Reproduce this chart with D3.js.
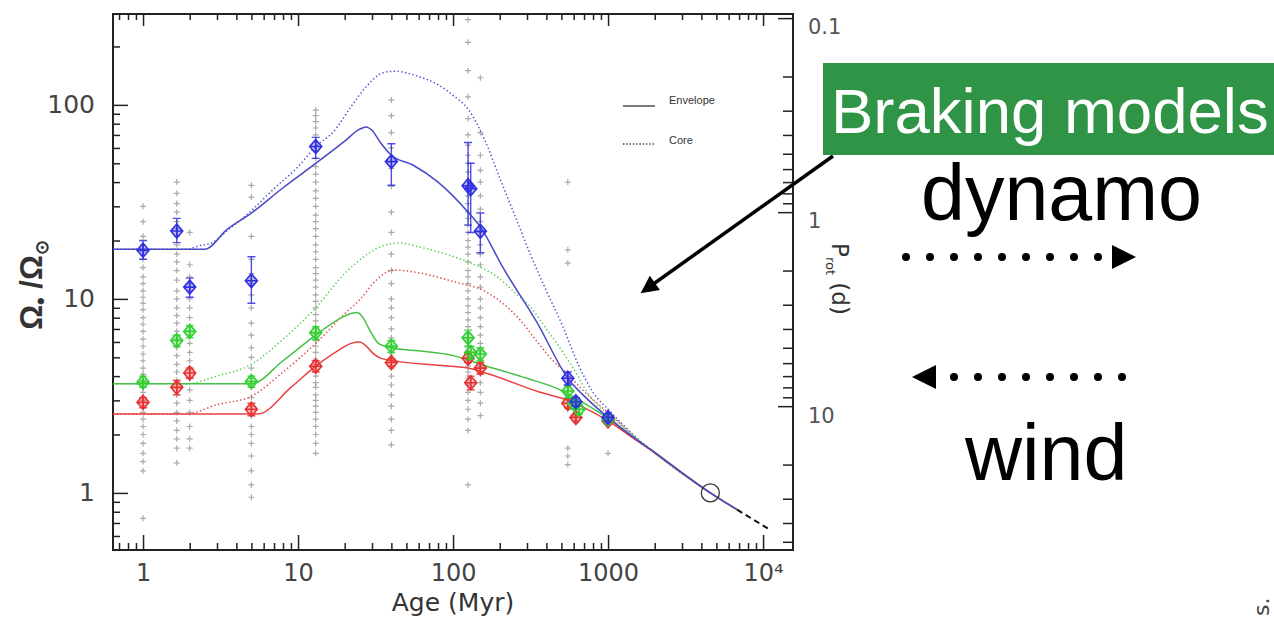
<!DOCTYPE html>
<html><head><meta charset="utf-8">
<script src="https://cdn.jsdelivr.net/npm/d3@7"></script>
<style>body{margin:0;background:#fff;}svg{display:block}</style>
</head><body>
<svg id="c" width="1274" height="619"></svg>
<script>
// ---------- DATA ----------
const xTickValues = [1, 10, 100, 1000, 10000];
const xTickLabels = ["1", "10", "100", "1000", "10\u2074"];
const yTickValues = [1, 10, 100];
const yTickLabels = ["1", "10", "100"];
const pTickValues = [0.1, 1, 10];
const pTickLabels = ["0.1", "1", "10"];
const legendLabels = ["Envelope", "Core"];

// cluster ages (Myr) and individual star rotation rates (Omega/Omega_sun)
const clusterAges = [1, 1.65, 2, 5, 13, 40, 125, 150, 550, 600, 1000];
const clusterOmega = [
  [30, 25, 21, 19, 17.5, 16, 14.5, 13, 12, 11, 10.2, 9.5, 8.8, 8, 7.4, 6.8, 6.2, 5.7, 5.2, 4.8, 4.4, 4.1, 3.8, 3.5, 3.3, 3.0, 2.8, 2.6, 2.4, 2.2, 2.0, 1.8, 1.6, 1.45, 1.3, 0.74],
  [40, 35, 31, 28, 25, 23, 21, 19, 17, 15.5, 14, 12.5, 11, 10, 9, 8.2, 7.5, 6.8, 6.2, 5.6, 5.1, 4.6, 4.2, 3.8, 3.5, 3.2, 2.9, 2.6, 2.35, 2.1, 1.9, 1.7, 1.43],
  [22, 15, 13, 12, 11, 10, 9, 8, 7.2, 6.5, 5.9, 5.3, 4.8, 4.3, 3.9, 3.4, 3.0, 2.6, 2.2, 1.9, 1.7],
  [38.5, 33.5, 21, 16, 13.5, 12, 10.5, 9, 7.5, 6.5, 5.6, 5.0, 4.4, 3.9, 3.5, 3.1, 2.8, 2.5, 2.2, 2.0, 1.8, 1.55, 1.3, 1.1, 0.95],
  [94, 88, 82, 76, 70, 64, 58, 53, 48, 44, 40, 36, 33, 30, 27, 25, 23, 21, 19, 17.5, 16, 14.5, 13.5, 12.5, 11.5, 10.5, 9.7, 9, 8.3, 7.7, 7.1, 6.6, 6.1, 5.7, 5.3, 4.9, 4.6, 4.3, 4.0, 3.7, 3.5, 3.2, 3.0, 2.8, 2.6, 2.4, 2.2, 2.0, 1.8, 1.6],
  [106, 88, 72, 60, 47, 38, 28, 22, 17, 14, 12, 10, 9, 8, 7, 6.3, 5.7, 5.2, 4.8, 4.4, 4.0, 3.6, 3.2, 2.8, 2.4, 2.1, 1.77],
  [275, 210, 150, 110, 85, 70, 62, 55, 50, 45, 41, 37, 34, 31, 28, 26, 24, 22, 20, 18.5, 17, 15.5, 14, 13, 12, 11, 10, 9.2, 8.5, 7.8, 7.2, 6.6, 6.1, 5.6, 5.2, 4.8, 4.5, 4.2, 3.9, 3.6, 3.3, 3.0, 2.7, 2.4, 2.1, 1.1],
  [138, 72, 55, 46, 40, 34, 29, 25, 22, 19, 17, 15, 13, 11.5, 10, 9, 8, 7.2, 6.5, 5.9, 5.4, 4.9, 4.5, 4.1, 3.7, 3.3, 2.9, 2.5],
  [40, 17.9, 15.3, 3.9, 3.5, 3.2, 2.9, 2.7, 1.7, 1.55, 1.4],
  [3.0, 2.7, 2.5],
  [2.5, 2.3, 1.6]
];

// percentile markers: [age, omega, low, high]
const bluePct = [[1,17.8,16,20],[1.65,22.4,19.5,26],[2,11.5,10.2,12.8],[5,12.4,9.5,16.5],[13,61,53,68],[40,51,38.5,63],[125,38.3,24,64],[130,37,22,50],[150,22.3,17.3,27.7],[550,3.9,3.6,4.2],[620,2.95,2.8,3.1],[1000,2.45,2.35,2.55]];
const greenPct = [[1,3.73,3.5,4.0],[1.65,6.1,5.7,6.5],[2,6.8,6.3,7.3],[5,3.75,3.5,4.0],[13,6.7,6.2,7.2],[40,5.7,5.3,6.1],[125,6.3,5.7,6.9],[130,5.3,4.9,5.7],[150,5.2,4.8,5.6],[550,3.35,3.1,3.6],[600,2.9,2.7,3.1],[650,2.7,2.55,2.85],[1000,2.4,2.3,2.5]];
const redPct = [[1,2.93,2.75,3.1],[1.65,3.5,3.2,3.8],[2,4.15,3.9,4.4],[5,2.7,2.5,2.9],[13,4.5,4.2,4.8],[40,4.7,4.5,4.9],[125,4.95,4.7,5.2],[130,3.7,3.4,4.0],[150,4.4,4.1,4.7],[550,2.9,2.75,3.05],[620,2.45,2.35,2.55],[1000,2.35,2.3,2.45]];

// model curves: [age, omega]
const blueEnvelope = [[0.64,18],[2.5,18],[3.5,22.9],[5,27.7],[8,37.4],[13,49.9],[20,65],[25,75],[27.5,77],[30,74],[34,64],[40,55],[55,49],[80,40],[125,28],[150,23.5],[210,14.5],[350,7.5],[550,3.9],[750,3.0],[1000,2.45],[1500,1.9],[2000,1.62],[3000,1.27],[4570,1.0],[6800,0.82]];
const greenEnvelope = [[0.64,3.65],[5,3.65],[8,4.8],[13,6.5],[18,7.8],[22,8.4],[24,8.5],[26,8.1],[29,6.9],[33,5.9],[40,5.6],[60,5.4],[100,5.1],[165,4.5],[300,3.9],[490,3.4],[700,2.9],[1000,2.42],[1500,1.9],[2000,1.62],[3000,1.27],[4570,1.0],[6800,0.82]];
const redEnvelope = [[0.64,2.55],[5.5,2.55],[9,3.5],[13,4.5],[18,5.4],[22,5.9],[25,6.0],[27,5.8],[30,5.3],[34,4.95],[45,4.75],[80,4.55],[125,4.4],[170,4.1],[365,3.3],[550,3.0],[700,2.75],[1000,2.35],[1500,1.88],[2000,1.61],[3000,1.27],[4570,1.0],[6800,0.82]];
const blueCore = [[0.64,18],[1.9,18],[2.3,18.8],[2.8,19.5],[3.5,22.5],[5,28.5],[7,37],[10,48],[13,61],[17,73],[22,98],[28,126],[35,146],[42,149],[60,140],[80,127],[100,112],[125,95],[160,66],[200,42],[250,27],[315,17],[400,11],[500,7.5],[650,4.5],[800,3.3],[1000,2.7],[1500,1.95],[2500,1.4],[4570,1.0]];
const greenCore = [[0.64,3.65],[1.9,3.65],[3,4.0],[5,4.6],[8,6.2],[13,9],[20,13.5],[28,17],[36,18.9],[45,19.4],[61,18.5],[90,17],[125,15.5],[192,13],[250,10.8],[315,9.1],[400,7],[512,5.3],[640,4.0],[732,3.3],[850,2.85],[1000,2.55],[1500,1.93],[2500,1.4],[4570,1.0]];
const redCore = [[0.64,2.55],[1.9,2.55],[3,2.85],[5,3.15],[8,4.2],[13,5.9],[20,8.4],[25,9.9],[32,12.5],[41,14.1],[61,13.6],[100,12.3],[166,10.8],[270,7.8],[350,6.0],[442,4.8],[550,4.1],[660,3.5],[850,2.9],[1000,2.6],[1500,1.93],[2500,1.4],[4570,1.0]];
const extrapolation = [[6800,0.82],[11100,0.645]];
const sunPoint = [4570, 1.0];
const solarPeriod = 28; // days, P = solarPeriod / (Omega/Omega_sun)

// annotation texts
const boxLabel = "Braking models";
const word1 = "dynamo";
const word2 = "wind";

// ---------- CHART ----------
const svg = d3.select("#c");
const L = 113, R = 793, T = 14, B = 550;
const x = d3.scaleLog().domain([0.64, 15600]).range([L, R]);
const y = d3.scaleLog().domain([0.508, 294]).range([B, T]);
const yP = d3.scaleLog().domain([solarPeriod / 0.508, solarPeriod / 294]).range([B, T]);

function minorTicks(lo, hi, min, max) {
  const out = [];
  for (let e = lo; e <= hi; e++) for (let k = 2; k <= 9; k++) {
    const v = k * Math.pow(10, e);
    if (v > min && v < max) out.push(v);
  }
  return out;
}
const axisFont = "DejaVu Sans, sans-serif";

function styleAxis(g) {
  g.select(".domain").remove();
  g.selectAll(".tick line").attr("stroke", "#222").attr("stroke-width", 1.5);
}

// bottom
const gB = svg.append("g").attr("transform", `translate(0,${B})`);
gB.call(d3.axisBottom(x).tickValues(xTickValues).tickSize(-15).tickPadding(14)
  .tickFormat((d, i) => xTickLabels[i])).call(styleAxis);
gB.selectAll("text").attr("font-family", axisFont).attr("font-size", 24).attr("fill", "#444");
svg.append("g").attr("transform", `translate(0,${B})`)
  .call(d3.axisBottom(x).tickValues(minorTicks(-1, 3, 0.64, 15600)).tickSize(-7).tickFormat("")).call(styleAxis);
// top
svg.append("g").attr("transform", `translate(0,${T})`)
  .call(d3.axisTop(x).tickValues(xTickValues).tickSize(-12).tickFormat("")).call(styleAxis);
svg.append("g").attr("transform", `translate(0,${T})`)
  .call(d3.axisTop(x).tickValues(minorTicks(-1, 3, 0.64, 15600)).tickSize(-6).tickFormat("")).call(styleAxis);
// left
const gL = svg.append("g").attr("transform", `translate(${L},0)`);
gL.call(d3.axisLeft(y).tickValues(yTickValues).tickSize(-15).tickPadding(18)
  .tickFormat((d, i) => yTickLabels[i])).call(styleAxis);
gL.selectAll("text").attr("font-family", axisFont).attr("font-size", 25).attr("fill", "#444");
svg.append("g").attr("transform", `translate(${L},0)`)
  .call(d3.axisLeft(y).tickValues(minorTicks(-1, 2, 0.508, 294)).tickSize(-7).tickFormat("")).call(styleAxis);
// right (rotation period)
svg.append("g").attr("transform", `translate(${R},0)`)
  .call(d3.axisRight(yP).tickValues(pTickValues).tickSize(-15).tickFormat("")).call(styleAxis);
svg.append("g").attr("transform", `translate(${R},0)`)
  .call(d3.axisRight(yP).tickValues(minorTicks(-1, 1, solarPeriod / 294, solarPeriod / 0.508)).tickSize(-10).tickFormat("")).call(styleAxis);
svg.append("g").selectAll("text").data(pTickValues).join("text")
  .attr("x", R + 15).attr("y", d => yP(d) + 9).attr("dy", "0.35em")
  .attr("font-family", axisFont).attr("font-size", 21).attr("fill", "#555")
  .text((d, i) => pTickLabels[i]);

// frame
svg.append("rect").attr("x", L).attr("y", T).attr("width", R - L).attr("height", B - T)
  .attr("fill", "none").attr("stroke", "#222").attr("stroke-width", 2);

// axis titles
svg.append("text").attr("x", (L + R) / 2).attr("y", 611).attr("text-anchor", "middle")
  .attr("font-family", axisFont).attr("font-size", 25).attr("fill", "#333").text("Age (Myr)");
const yl = svg.append("text").attr("transform", "translate(42,285) rotate(-90)")
  .attr("text-anchor", "middle").attr("font-family", "Liberation Sans, Arial, sans-serif")
  .attr("font-weight", "bold").attr("font-size", 31).attr("fill", "#333");
yl.append("tspan").text("\u03A9");
yl.append("tspan").attr("font-size", 22).attr("dy", 6).text("\u2022");
yl.append("tspan").attr("dy", -6).text("  /\u03A9");
yl.append("tspan").attr("font-size", 18).attr("dy", 6).text("\u2299");
const pl = svg.append("text").attr("transform", "translate(832,243) rotate(90)")
  .attr("font-family", axisFont).attr("font-size", 23).attr("fill", "#333");
pl.append("tspan").text("P");
pl.append("tspan").attr("font-size", 13).attr("dy", 6).text("rot");
pl.append("tspan").attr("dy", -6).text(" (d)");

// clip
svg.append("clipPath").attr("id", "clip").append("rect")
  .attr("x", L).attr("y", T).attr("width", R - L).attr("height", B - T);
const plot = svg.append("g").attr("clip-path", "url(#clip)");

// cluster stars
const stars = [];
clusterAges.forEach((a, i) => clusterOmega[i].forEach(o => stars.push([a, o])));
plot.append("g").selectAll("path").data(stars).join("path")
  .attr("transform", d => `translate(${x(d[0])},${y(d[1])})`)
  .attr("d", "M-3,0H3M0,-3V3").attr("stroke", "#555").attr("stroke-opacity", 0.5).attr("stroke-width", 1.2);

// model lines
const line = d3.line().x(d => x(d[0])).y(d => y(d[1])).curve(d3.curveMonotoneX);
const models = [
  [blueCore, "#5050d8", true], [greenCore, "#55d055", true], [redCore, "#e04a4a", true],
  [greenEnvelope, "#44c044", false], [redEnvelope, "#e84040", false], [blueEnvelope, "#4848c8", false]
];
models.forEach(([d, c, dotted]) => {
  plot.append("path").datum(d).attr("d", line).attr("fill", "none").attr("stroke", c)
    .attr("stroke-width", dotted ? 1.5 : 1.5).attr("stroke-dasharray", dotted ? "1.4,2.4" : null);
});
plot.append("path").datum(extrapolation).attr("d", line).attr("fill", "none")
  .attr("stroke", "#111").attr("stroke-width", 2).attr("stroke-dasharray", "6,4");

// percentile markers
function drawPct(data, color) {
  const g = plot.append("g");
  g.selectAll("path.eb").data(data).join("path").attr("class", "eb")
    .attr("d", d => `M${x(d[0])},${y(d[2])}V${y(d[3])}M${x(d[0]) - 4},${y(d[2])}h8M${x(d[0]) - 4},${y(d[3])}h8`)
    .attr("stroke", color).attr("stroke-width", 1.4).attr("fill", "none").attr("stroke-opacity", 0.85);
  g.selectAll("path.dm").data(data).join("path").attr("class", "dm")
    .attr("transform", d => `translate(${x(d[0])},${y(d[1])})`)
    .attr("d", "M0,-7L6,0L0,7L-6,0ZM-6,0H6M0,-7V7")
    .attr("stroke", color).attr("stroke-width", 1.6).attr("fill", color).attr("fill-opacity", 0.3);
}
drawPct(redPct, "#e83030");
drawPct(greenPct, "#30d030");
drawPct(bluePct, "#3030e0");

// sun
plot.append("circle").attr("cx", x(sunPoint[0])).attr("cy", y(sunPoint[1])).attr("r", 9)
  .attr("fill", "none").attr("stroke", "#333").attr("stroke-width", 1.3);

// legend
const lg = svg.append("g").attr("font-family", "Liberation Sans, Arial, sans-serif").attr("font-size", 11).attr("fill", "#333");
lg.append("line").attr("x1", 623).attr("x2", 655).attr("y1", 106).attr("y2", 106).attr("stroke", "#333").attr("stroke-width", 1.3);
lg.append("line").attr("x1", 623).attr("x2", 655).attr("y1", 144).attr("y2", 144).attr("stroke", "#333").attr("stroke-width", 1.3).attr("stroke-dasharray", "1.3,2");
lg.append("text").attr("x", 669).attr("y", 104).text(legendLabels[0]);
lg.append("text").attr("x", 669).attr("y", 144).text(legendLabels[1]);

// ---------- ANNOTATIONS ----------
const sans = "Liberation Sans, Arial, sans-serif";
svg.append("defs").append("marker").attr("id", "ah").attr("viewBox", "0 0 10 10")
  .attr("refX", 2).attr("refY", 5).attr("markerWidth", 5.5).attr("markerHeight", 5).attr("orient", "auto")
  .append("path").attr("d", "M0,0L10,5L0,10Z").attr("fill", "#000");
svg.append("line").attr("x1", 833).attr("y1", 156).attr("x2", 652).attr("y2", 285)
  .attr("stroke", "#000").attr("stroke-width", 3.5).attr("marker-end", "url(#ah)");

svg.append("rect").attr("x", 823).attr("y", 63).attr("width", 460).attr("height", 92).attr("fill", "#2f9446");
svg.append("text").attr("x", 831).attr("y", 133).attr("font-family", sans).attr("font-size", 63.5)
  .attr("fill", "#fff").text(boxLabel);
svg.append("text").attr("x", 921).attr("y", 220).attr("font-family", sans).attr("font-size", 79)
  .attr("fill", "#000").text(word1);
svg.append("text").attr("x", 965).attr("y", 480).attr("font-family", sans).attr("font-size", 79)
  .attr("fill", "#000").text(word2);

// dotted arrows
const dotsRight = d3.range(9), dotsLeft = d3.range(8);
svg.append("g").selectAll("circle").data(dotsRight).join("circle")
  .attr("cx", d => 906 + 24 * d).attr("cy", 257).attr("r", 4).attr("fill", "#000");
svg.append("path").attr("d", "M1112,245L1136,257L1112,269Z").attr("fill", "#000");
svg.append("g").selectAll("circle").data(dotsLeft).join("circle")
  .attr("cx", d => 954 + 24 * d).attr("cy", 377).attr("r", 4).attr("fill", "#000");
svg.append("path").attr("d", "M936,365L912,377L936,389Z").attr("fill", "#000");

// side text (partially visible in the original)
svg.append("text").attr("transform", "translate(1269,616) rotate(-90)").attr("font-family", axisFont)
  .attr("font-size", 22).attr("fill", "#444").text("s.");
</script>
</body></html>
